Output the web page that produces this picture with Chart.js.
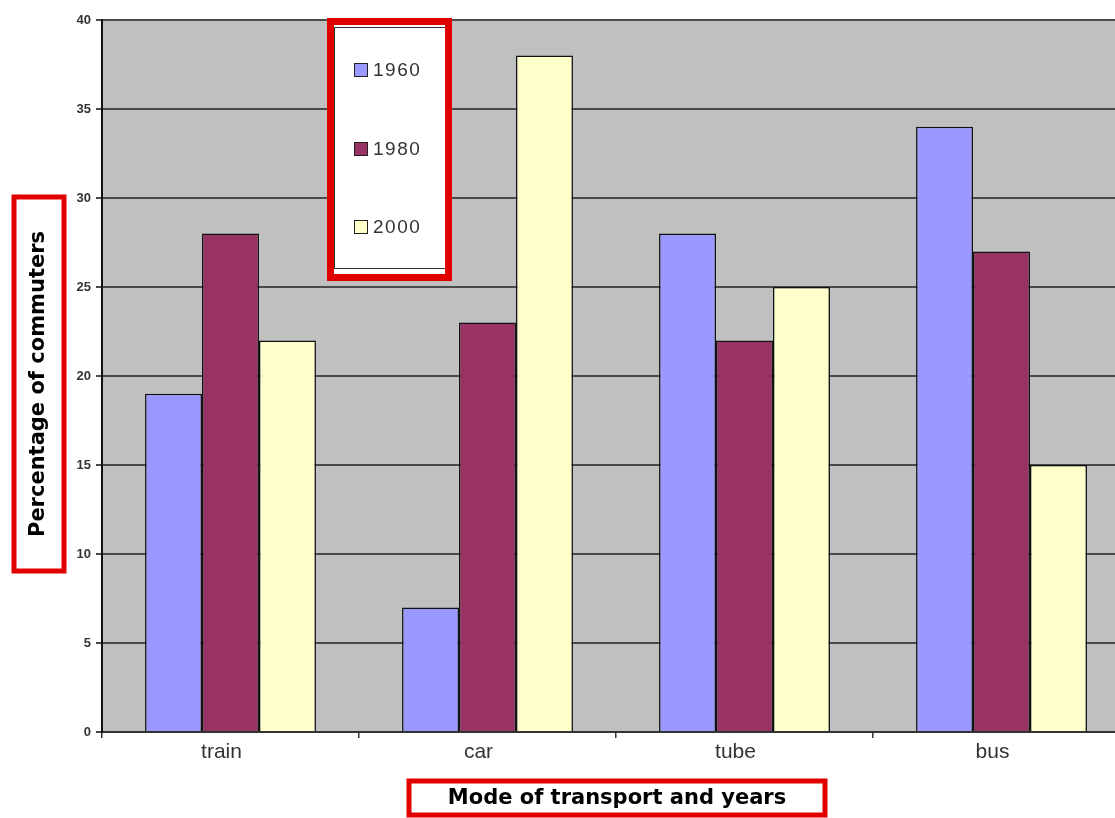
<!DOCTYPE html>
<html>
<head>
<meta charset="utf-8">
<script src="https://cdn.jsdelivr.net/npm/chart.js@4.4.0/dist/chart.umd.min.js"></script>
<style>
  html, body { margin: 0; padding: 0; background: #fff; overflow: hidden; }
  #wrap { width: 1115px; height: 818px; overflow: hidden; }
</style>
</head>
<body>
<div id="wrap"><canvas id="barChart" width="1140" height="818"></canvas></div>
<script>
const categories = ["train", "car", "tube", "bus"];
const years = ["1960", "1980", "2000"];
const values1960 = [19, 7, 28, 34];
const values1980 = [28, 23, 22, 27];
const values2000 = [22, 38, 25, 15];
const yTicks = [0, 5, 10, 15, 20, 25, 30, 35, 40];
const colors = ["#9999ff", "#993366", "#ffffcc"];

// grey plot background
const plotBg = {
  id: 'plotBg',
  beforeDraw(chart) {
    const { ctx, chartArea: a } = chart;
    ctx.save();
    ctx.fillStyle = '#c0c0c0';
    ctx.fillRect(a.left, a.top, a.right - a.left, a.bottom - a.top);
    ctx.restore();
  }
};

// legend + axis titles in red boxes
const boxes = {
  id: 'boxes',
  afterDraw(chart) {
    const ctx = chart.ctx;
    ctx.save();

    // legend
    ctx.fillStyle = '#fff';
    ctx.fillRect(330, 21, 119, 256);
    ctx.strokeStyle = '#333';
    ctx.lineWidth = 1;
    ctx.strokeRect(334.5, 27.5, 111, 241);
    ctx.strokeStyle = '#e00000';
    ctx.lineWidth = 7;
    ctx.strokeRect(330.5, 21.5, 118, 256);
    const ys = [70, 149, 227];
    chart.data.datasets.forEach((ds, i) => {
      ctx.fillStyle = ds.backgroundColor;
      ctx.fillRect(354, ys[i] - 7, 14, 14);
      ctx.strokeStyle = '#222';
      ctx.lineWidth = 1;
      ctx.strokeRect(354.5, ys[i] - 6.5, 13, 13);
      ctx.fillStyle = '#333';
      ctx.font = '19px "Liberation Sans", Arial, sans-serif';
      ctx.letterSpacing = '1.5px';
      ctx.textBaseline = 'middle';
      ctx.textAlign = 'left';
      ctx.fillText(ds.label, 373, ys[i] + 1);
      ctx.letterSpacing = '0px';
    });

    // y title
    ctx.fillStyle = '#fff';
    ctx.fillRect(14, 197, 50, 374);
    ctx.strokeStyle = '#e00000';
    ctx.lineWidth = 5;
    ctx.strokeRect(14, 197, 50, 374);
    ctx.translate(39, 384);
    ctx.rotate(-Math.PI / 2);
    ctx.fillStyle = '#000';
    ctx.font = 'bold 21px "DejaVu Sans", Verdana, sans-serif';
    ctx.textAlign = 'center';
    ctx.textBaseline = 'middle';
    ctx.fillText('Percentage of commuters', 0, 0);
    ctx.setTransform(1, 0, 0, 1, 0, 0);

    // x title
    ctx.fillStyle = '#fff';
    ctx.fillRect(409, 781, 416, 34);
    ctx.strokeStyle = '#e00000';
    ctx.lineWidth = 5;
    ctx.strokeRect(409, 781, 416, 34);
    ctx.fillStyle = '#000';
    ctx.font = 'bold 21px "DejaVu Sans", Verdana, sans-serif';
    ctx.textAlign = 'center';
    ctx.textBaseline = 'middle';
    ctx.fillText('Mode of transport and years', 617, 799);

    ctx.restore();
  }
};

new Chart(document.getElementById('barChart'), {
  type: 'bar',
  data: {
    labels: categories,
    datasets: [
      { label: years[0], data: values1960, backgroundColor: colors[0] },
      { label: years[1], data: values1980, backgroundColor: colors[1] },
      { label: years[2], data: values2000, backgroundColor: colors[2] }
    ].map(d => Object.assign(d, {
      borderColor: '#111',
      borderWidth: 1.5,
      categoryPercentage: 0.665,
      barPercentage: 1.0
    }))
  },
  options: {
    responsive: false,
    animation: false,
    layout: { padding: { left: 0, top: 20, right: 10, bottom: 0 } },
    plugins: {
      legend: { display: false },
      tooltip: { enabled: false }
    },
    scales: {
      x: {
        offset: true,
        afterFit(scale) { scale.height = 86; },
        grid: {
          offset: true,
          drawOnChartArea: false,
          tickLength: 6,
          color: '#333',
          lineWidth: 1.5
        },
        border: { color: '#333', width: 2 },
        ticks: {
          color: '#333',
          padding: 2,
          labelOffset: -9,
          font: { size: 21, family: '"Liberation Sans", Arial, sans-serif' }
        }
      },
      y: {
        min: 0,
        max: 40,
        afterFit(scale) { scale.width = 102; },
        afterBuildTicks(scale) { scale.ticks = yTicks.map(v => ({ value: v })); },
        grid: {
          color: '#4a4a4a',
          lineWidth: 2,
          tickLength: 6
        },
        border: { color: '#111', width: 2 },
        ticks: {
          color: '#333',
          padding: 5,
          font: { size: 13, weight: 'bold', family: '"Liberation Sans", Arial, sans-serif' }
        }
      }
    }
  },
  plugins: [plotBg, boxes]
});
</script>
</body>
</html>
